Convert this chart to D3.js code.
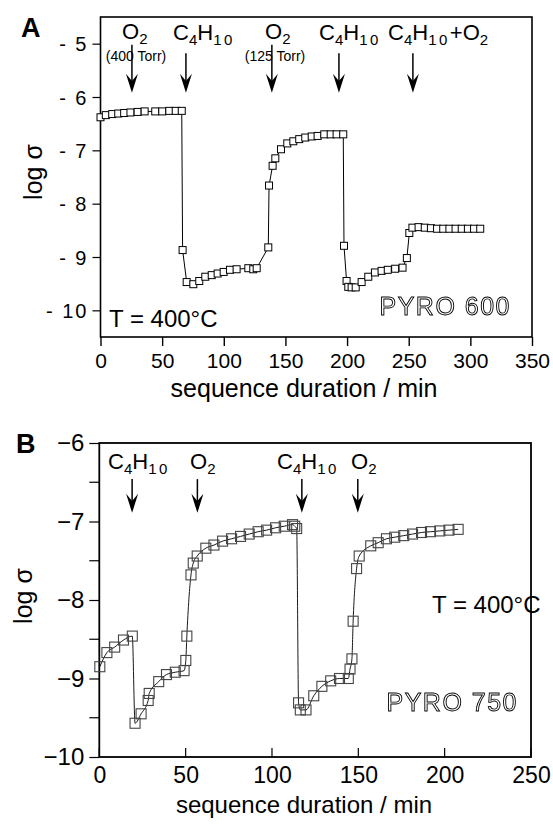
<!DOCTYPE html>
<html><head><meta charset="utf-8">
<script src="https://cdn.jsdelivr.net/npm/d3@7"></script>
<style>
body{margin:0;background:#fff;}
svg{display:block;}
text{font-family:"Liberation Sans",Arial,sans-serif;fill:#000;}
</style></head>
<body>
<svg id="chart" width="553" height="824">
  <defs><filter id="gray" x="-5%" y="-20%" width="110%" height="140%"><feColorMatrix type="saturate" values="0"/></filter></defs>
</svg>
<script>
// ---------- Panel A data (PYRO 600) ----------
const tA = [0, 4.3, 9.5, 14.4, 19.2, 24.3, 30.1, 35.8, 44.4, 50.1, 55.8, 61, 65.9,
  66.6, 69.9, 75.3, 80.1, 85, 90.2, 95, 99.9, 105, 110.4, 119.9, 123.9, 126.7,
  136.1, 136.7, 139.6, 141.8, 146.4, 151.5, 156.4, 161.2, 166.1, 171.3, 176.1, 181.5, 186.7, 191.5, 196.9,
  197.5, 199.6, 201, 203.7, 207, 211.8, 217.2, 222.6, 228, 233, 239, 245, 248.5, 250.5,
  253, 258, 263, 268, 273, 278, 283, 288, 293, 298, 303, 308];
const vA = [-6.38, -6.34, -6.32, -6.31, -6.30, -6.29, -6.28, -6.27, -6.27, -6.27, -6.26, -6.26, -6.26,
  -8.87, -9.47, -9.51, -9.45, -9.37, -9.34, -9.31, -9.28, -9.24, -9.23, -9.21, -9.23, -9.21,
  -8.82, -7.66, -7.29, -7.15, -6.98, -6.87, -6.83, -6.79, -6.76, -6.74, -6.73, -6.70, -6.70, -6.70, -6.70,
  -8.79, -9.45, -9.56, -9.57, -9.57, -9.47, -9.37, -9.29, -9.26, -9.24, -9.22, -9.20, -9.02, -8.55,
  -8.45, -8.44, -8.45, -8.46, -8.47, -8.47, -8.47, -8.47, -8.47, -8.47, -8.47, -8.47];
const xTicksA = [0, 50, 100, 150, 200, 250, 300, 350];
const yTicksA = [-5, -6, -7, -8, -9, -10];
const arrowTA = [25.5, 69.3, 139, 193.4, 253.4];

// ---------- Panel B data (PYRO 750) ----------
const tB = [0.3, 4.4, 8.9, 14, 19.1,
  20.7, 24.2, 28.3, 28.9, 34.4, 38.9, 44, 49.1, 50.1,
  50.7, 53.1, 54.4, 56.7, 61.7, 66.4, 71.4, 76.6, 81.8, 86.8, 92, 96.9, 102.1, 107.1, 111.9, 113.2, 114.3,
  115.4, 116.4, 119.7, 124.2, 128.9, 134, 139.1, 144.2, 145.2, 146.3,
  147, 149, 150.5, 157.2, 161.5, 166.3, 171.1, 176.3, 181.4, 186.6, 191.8, 197.2, 202.5, 207.8];
const vB = [-8.85, -8.67, -8.60, -8.51, -8.46,
  -9.57, -9.45, -9.28, -9.19, -9.04, -8.95, -8.92, -8.90, -8.77,
  -8.46, -7.68, -7.53, -7.44, -7.34, -7.30, -7.25, -7.22, -7.19, -7.16, -7.13, -7.11, -7.08, -7.06, -7.04, -7.06, -7.09,
  -9.31, -9.40, -9.40, -9.22, -9.10, -9.03, -9.00, -9.00, -8.88, -8.75,
  -8.27, -7.60, -7.44, -7.31, -7.27, -7.22, -7.20, -7.18, -7.16, -7.14, -7.13, -7.12, -7.11, -7.10];
const xTicksB = [0, 50, 100, 150, 200, 250];
const yTicksB = [-6, -7, -8, -9, -10];
const yMinorB = [-6.5, -7.5, -8.5, -9.5];
const arrowTB = [19, 56.8, 117.3, 149.7];

const svg = d3.select("#chart");

function chem(g, x, y, parts, size, subSize, subShift, anchor) {
  const t = g.append("text").attr("x", x).attr("y", y).attr("font-size", size)
    .attr("text-anchor", anchor || "start");
  let cur = 0;
  parts.forEach(p => {
    const sub = p[1];
    const dy = (sub ? subShift : 0) - cur;
    cur = sub ? subShift : 0;
    const ts = t.append("tspan").attr("dy", dy).text(p[0]);
    if (sub) { ts.attr("font-size", subSize); if (p[0].length > 1) ts.attr("letter-spacing", 2.5); }
  });
  return t;
}
function arrow(g, x, y1, y2, hw, hh) {
  g.append("line").attr("x1", x).attr("x2", x).attr("y1", y1).attr("y2", y2 - 4)
    .attr("stroke", "#000").attr("stroke-width", 1.5);
  g.append("path").attr("d", `M${x},${y2} L${x - hw},${y2 - hh} L${x},${y2 - hh * 0.62} L${x + hw},${y2 - hh} Z`)
    .attr("fill", "#000");
}

// ================= Panel A =================
{
  const x = d3.scaleLinear().domain([0, 350]).range([100.5, 532]);
  const y = d3.scaleLinear().domain([-10.5, -4.5]).range([337, 17]);
  const g = svg.append("g");
  g.append("rect").attr("x", 100.5).attr("y", 17).attr("width", 431.5).attr("height", 320)
    .attr("fill", "none").attr("stroke", "#000").attr("stroke-width", 1.6);
  const xa = g.append("g").attr("transform", "translate(0,337)")
    .call(d3.axisBottom(x).tickValues(xTicksA).tickSize(9).tickPadding(6).tickFormat(d3.format("d")));
  xa.select(".domain").remove();
  xa.selectAll("line").attr("stroke-width", 1.4);
  xa.selectAll("text").attr("font-size", 21).attr("font-family", "Liberation Sans, Arial, sans-serif").attr("dy", "0.76em");
  const ya = g.append("g").attr("transform", "translate(100.5,0)")
    .call(d3.axisLeft(y).tickValues(yTicksA).tickSize(8).tickPadding(4).tickFormat(d => "- " + (-d)));
  ya.select(".domain").remove();
  ya.selectAll("line").attr("stroke-width", 1.2);
  ya.selectAll("text").attr("font-size", 20).attr("letter-spacing", 2).attr("font-family", "Liberation Sans, Arial, sans-serif").attr("dy", "0.36em");
  const pts = tA.map((t, i) => [t, vA[i]]);
  g.append("path").datum(pts).attr("fill", "none").attr("stroke", "#000").attr("stroke-width", 1)
    .attr("d", d3.line().x(d => x(d[0])).y(d => y(d[1])));
  g.selectAll("rect.pt").data(pts).enter().append("rect").attr("class", "pt")
    .attr("x", d => x(d[0]) - 3.5).attr("y", d => y(d[1]) - 3.5).attr("width", 7).attr("height", 7)
    .attr("fill", "#fff").attr("stroke", "#000").attr("stroke-width", 1);
  arrowTA.forEach((t, i) => {
    const ys = (i === 0 || i === 2) ? -5.02 : -5.18;
    arrow(g, x(t), y(ys), y(-5.92), 6, 19);
  });
  chem(g, 122, 39, [["O", 0], ["2", 1]], 22, 15, 5);
  g.append("text").attr("x", 136).attr("y", 61).attr("font-size", 14).attr("text-anchor", "middle").text("(400 Torr)");
  chem(g, 173, 40, [["C", 0], ["4", 1], ["H", 0], ["10", 1]], 22, 15, 5);
  chem(g, 265, 39, [["O", 0], ["2", 1]], 22, 15, 5);
  g.append("text").attr("x", 275).attr("y", 61).attr("font-size", 14).attr("text-anchor", "middle").text("(125 Torr)");
  chem(g, 319, 40, [["C", 0], ["4", 1], ["H", 0], ["10", 1]], 22, 15, 5);
  chem(g, 388, 40, [["C", 0], ["4", 1], ["H", 0], ["10", 1], ["+O", 0], ["2", 1]], 22, 15, 5);
  g.append("text").attr("x", 109).attr("y", 327).attr("font-size", 24).text("T = 400°C");
  g.append("text").attr("filter", "url(#gray)").attr("x", 511).attr("y", 315).attr("font-size", 25).attr("text-anchor", "end")
    .attr("letter-spacing", 1.5).attr("stroke", "#000").attr("stroke-width", 0.9)
    .style("fill", "#fff").text("PYRO  600");
  g.append("text").attr("x", 304).attr("y", 397).attr("font-size", 25).attr("text-anchor", "middle").text("sequence duration / min");
  g.append("text").attr("transform", "translate(42,172) rotate(-90)").attr("font-size", 25).attr("text-anchor", "middle").text("log σ");
  g.append("text").attr("x", 21).attr("y", 37).attr("font-size", 27).attr("font-weight", "bold").text("A");
}

// ================= Panel B =================
{
  const x = d3.scaleLinear().domain([0, 250]).range([99.3, 531]);
  const y = d3.scaleLinear().domain([-10, -6]).range([757, 443]);
  const g = svg.append("g");
  g.append("rect").attr("x", 99.3).attr("y", 443).attr("width", 431.7).attr("height", 314)
    .attr("fill", "none").attr("stroke", "#000").attr("stroke-width", 1.8);
  const xa = g.append("g").attr("transform", "translate(0,757)")
    .call(d3.axisBottom(x).tickValues(xTicksB).tickSize(0).tickPadding(10).tickFormat(d3.format("d")));
  xa.select(".domain").remove();
  xa.selectAll("text").attr("font-size", 23).attr("font-family", "Liberation Serif, Times New Roman, serif").attr("dy", "0.71em");
  g.selectAll("line.xtin").data(xTicksB).enter().append("line").attr("class", "xtin")
    .attr("x1", d => x(d)).attr("x2", d => x(d)).attr("y1", 757).attr("y2", 748)
    .attr("stroke", "#000").attr("stroke-width", 1.2);
  const ya = g.append("g").attr("transform", "translate(99.3,0)")
    .call(d3.axisLeft(y).tickValues(yTicksB).tickSize(10).tickPadding(5).tickFormat(d3.format("d")));
  ya.select(".domain").remove();
  ya.selectAll("line").attr("stroke-width", 1.2);
  ya.selectAll("text").attr("font-size", 24).attr("font-family", "Liberation Serif, Times New Roman, serif").attr("dy", "0.32em");
  g.selectAll("line.ymin").data(yMinorB).enter().append("line").attr("class", "ymin")
    .attr("x1", 89.3).attr("x2", 99.3).attr("y1", d => y(d)).attr("y2", d => y(d))
    .attr("stroke", "#000").attr("stroke-width", 1.2);
  const pts = tB.map((t, i) => [t, vB[i]]);
  g.append("path").datum(pts).attr("fill", "none").attr("stroke", "#000").attr("stroke-width", 0.9)
    .attr("d", d3.line().curve(d3.curveMonotoneX).x(d => x(d[0])).y(d => y(d[1])));
  g.selectAll("rect.pt").data(pts).enter().append("rect").attr("class", "pt")
    .attr("x", d => x(d[0]) - 5).attr("y", d => y(d[1]) - 5).attr("width", 10).attr("height", 10)
    .attr("fill", "none").attr("stroke", "#444").attr("stroke-width", 1.1);
  arrowTB.forEach(t => arrow(g, x(t), y(-6.46), y(-6.89), 6, 19));
  chem(g, 108, 469, [["C", 0], ["4", 1], ["H", 0], ["10", 1]], 22, 15, 5);
  chem(g, 190, 469, [["O", 0], ["2", 1]], 22, 15, 5);
  chem(g, 277, 469, [["C", 0], ["4", 1], ["H", 0], ["10", 1]], 22, 15, 5);
  chem(g, 351, 469, [["O", 0], ["2", 1]], 22, 15, 5);
  g.append("text").attr("x", 432).attr("y", 613).attr("font-size", 24).text("T = 400°C");
  g.append("text").attr("filter", "url(#gray)").attr("x", 518).attr("y", 711).attr("font-size", 25).attr("text-anchor", "end")
    .attr("letter-spacing", 1.5).attr("stroke", "#000").attr("stroke-width", 0.9)
    .style("fill", "#fff").text("PYRO  750");
  g.append("text").attr("x", 304).attr("y", 813).attr("font-size", 24).attr("text-anchor", "middle").text("sequence duration / min");
  g.append("text").attr("transform", "translate(32,596) rotate(-90)").attr("font-size", 25).attr("text-anchor", "middle").text("log σ");
  g.append("text").attr("x", 16).attr("y", 453).attr("font-size", 27).attr("font-weight", "bold").text("B");
}
</script>
</body></html>
